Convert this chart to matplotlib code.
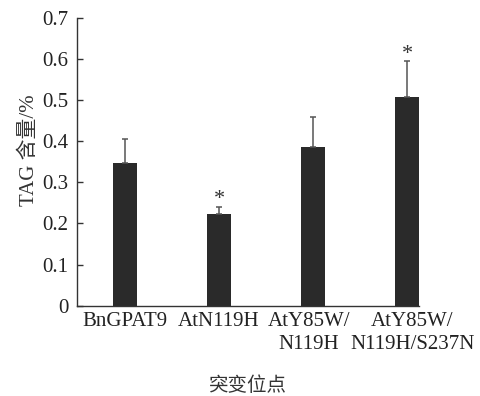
import numpy as np
import matplotlib.pyplot as plt
import matplotlib.transforms as mtransforms

plt.rcParams['font.family'] = ['Liberation Serif', 'Noto Sans CJK SC']

labels = ['BnGPAT9', 'AtN119H', 'AtY85W/\nN119H', 'AtY85W/\nN119H/S237N']
tag = [0.347, 0.223, 0.386, 0.508]
err = [0.059, 0.018, 0.073, 0.086]
signif = ['', '*', '', '*']

fig = plt.figure(figsize=(4.81, 3.96), dpi=100)
ax = fig.add_axes([0.160, 0.228, 0.711, 0.727])

x = np.arange(len(tag))
ax.bar(x, tag, width=0.25, color='#2a2a2a')
ax.errorbar(x, tag, yerr=[np.zeros(len(err)), err], fmt='none',
            ecolor='#555555', elinewidth=1.1, capsize=2.5, capthick=1.1)
for xi, t, e, s in zip(x, tag, err, signif):
    if s:
        ax.text(xi, t + e - 0.007, s, ha='center', va='bottom', fontsize=16, color='#333333')

ax.set_xlim(-0.51, 3.125)
ax.set_ylim(0, 0.7)
ax.set_yticks(np.arange(0, 0.71, 0.1))
ax.set_yticklabels(['0'] + ['%.1f' % v for v in np.arange(0.1, 0.71, 0.1)])
ax.set_xticks([])

# category labels drawn by hand, the two long ones sit a little apart
trans = ax.get_xaxis_transform()
shifts = [0, 0, -4, 5]
for xi, lab, dx in zip(x, labels, shifts):
    tr = trans + mtransforms.ScaledTranslation(dx / 100, -6 / 100, fig.dpi_scale_trans)
    ax.text(xi, 0, lab, transform=tr, ha='center', va='top', multialignment='center',
            linespacing=1.3, fontsize=15, color='#222222')

for side in ['top', 'right']:
    ax.spines[side].set_visible(False)
for side in ['left', 'bottom']:
    ax.spines[side].set_color('#333333')
    ax.spines[side].set_linewidth(1.0)

ax.tick_params(axis='y', direction='in', length=4, width=1, color='#333333',
               labelsize=15, labelcolor='#222222', pad=6)

ax.set_ylabel('TAG 含量/%', fontsize=15, color='#333333')
ax.yaxis.set_label_coords(-0.11, 0.54)
ax.set_xlabel('突变位点', fontsize=14, color='#333333')
ax.xaxis.set_label_coords(0.5, -0.245)

fig.savefig('out.png', dpi=100)
